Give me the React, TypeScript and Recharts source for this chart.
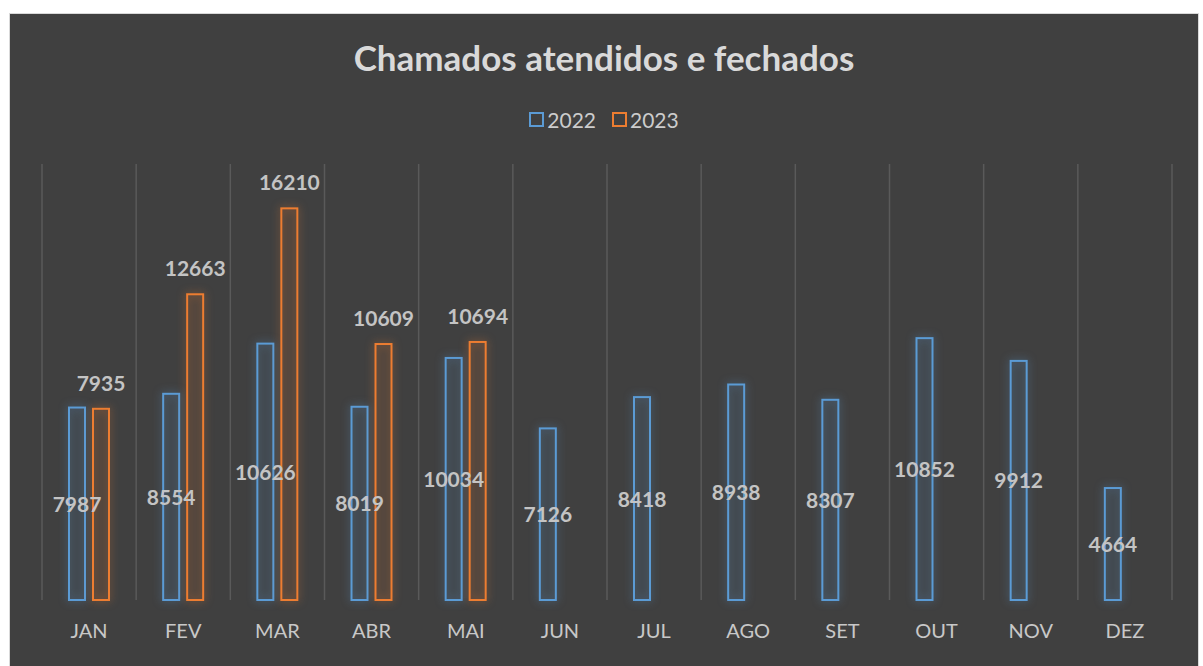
import { BarChart, Bar, XAxis, YAxis, CartesianGrid, Legend, LabelList } from "recharts";

const months = ["JAN", "FEV", "MAR", "ABR", "MAI", "JUN", "JUL", "AGO", "SET", "OUT", "NOV", "DEZ"];
const values2022 = [7987, 8554, 10626, 8019, 10034, 7126, 8418, 8938, 8307, 10852, 9912, 4664];
const values2023: (number | null)[] = [7935, 12663, 16210, 10609, 10694, null, null, null, null, null, null, null];

const BLUE = "#5B9BD5";
const ORANGE = "#ED7D31";
const FONT = "Lato, 'Open Sans', sans-serif";

const chartData = months.map((m, i) => ({ month: m, y2022: values2022[i], y2023: values2023[i] }));

// hollow bar with a soft glow, like the Excel "glow" effect
function glowBar(color: string, tint: string) {
    return (props: any) => {
        const { x, y, width, height } = props;
        if (height == null || height <= 0) return null;
        return (
            <rect
                x={x + 1}
                y={y + 1}
                width={width - 2}
                height={height - 1}
                fill={tint}
                stroke={color}
                strokeWidth={2}
                style={{ filter: `drop-shadow(0 0 4px ${color}99)` }}
            />
        );
    };
}

// gridlines on the category boundaries (band edges of the plot area)
const boundaryLines = ({ offset }: any) => {
    const step = offset.width / months.length;
    const pts: number[] = [];
    for (let i = 0; i <= months.length; i++) pts.push(offset.left + i * step);
    return pts;
};

const LegendContent = () => (
    <div style={{ display: "flex", justifyContent: "center", gap: 16, fontFamily: FONT, fontSize: 21, color: "#cccccc" }}>
        {[
            ["2022", BLUE],
            ["2023", ORANGE],
        ].map(([name, color]) => (
            <span key={name} style={{ display: "flex", alignItems: "center" }}>
                <span style={{ display: "inline-block", width: 11, height: 11, border: `2px solid ${color}`, marginRight: 3 }} />
                {name}
            </span>
        ))}
    </div>
);

export default function App() {
    return (
        <div style={{ position: "fixed", left: 0, top: 0, width: 1203, height: 666, background: "#fff", overflow: "hidden" }}>
            <div
                style={{
                    position: "absolute",
                    left: 9,
                    top: 13,
                    width: 1188,
                    height: 660,
                    background: "#404040",
                    border: "1px solid #d9d9d9",
                }}
            >
                <div
                    style={{
                        position: "absolute",
                        left: 0,
                        top: 22,
                        width: "100%",
                        textAlign: "center",
                        fontFamily: FONT,
                        fontWeight: 700,
                        fontSize: 35,
                        color: "#d9d9d9",
                    }}
                >
                    Chamados atendidos e fechados
                </div>
                <BarChart
                    width={1188}
                    height={652}
                    data={chartData}
                    margin={{ top: 150, right: 26, left: 32, bottom: 36 }}
                    barSize={18}
                    barGap={6}
                >
                    <CartesianGrid horizontal={false} stroke="#5a5a5a" strokeWidth={1.5} verticalCoordinatesGenerator={boundaryLines} />
                    <XAxis
                        dataKey="month"
                        axisLine={false}
                        tickLine={false}
                        height={30}
                        tick={{ fill: "#c8c8c8", fontSize: 20, fontFamily: FONT }}
                        tickMargin={18}
                    />
                    <YAxis hide domain={[0, 18000]} />
                    <Legend
                        layout="horizontal"
                        verticalAlign="middle"
                        align="center"
                        wrapperStyle={{ top: 93, left: 0, width: 1188 }}
                        content={<LegendContent />}
                    />
                    <Bar dataKey="y2022" name="2022" isAnimationActive={false} shape={glowBar(BLUE, "rgba(91,155,213,0.05)")}>
                        <LabelList
                            dataKey="y2022"
                            position="center"
                            fill="#c4c4c4"
                            dy={1}
                            style={{ fontFamily: FONT, fontWeight: 700, fontSize: 21 }}
                        />
                    </Bar>
                    <Bar dataKey="y2023" name="2023" isAnimationActive={false} shape={glowBar(ORANGE, "rgba(237,125,49,0.06)")}>
                        <LabelList
                            dataKey="y2023"
                            position="top"
                            offset={17}
                            fill="#c4c4c4"
                            style={{ fontFamily: FONT, fontWeight: 700, fontSize: 21 }}
                        />
                    </Bar>
                </BarChart>
            </div>
        </div>
    );
}
